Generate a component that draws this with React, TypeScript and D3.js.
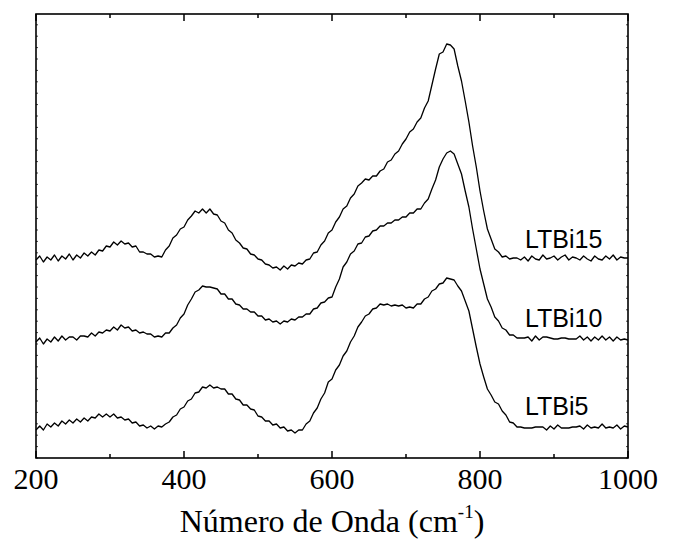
import React, { useEffect, useRef } from "react";
import * as d3 from "d3";

// wavenumber grid, cm-1 (every 5 from 200 to 1000)
const waveStart = 200;
const waveEnd = 1000;
const waveStep = 5;

const seriesNames = ["LTBi15", "LTBi10", "LTBi5"];

// intensities (a.u., offset stacked)
const ltbi15 = [
  198, 202, 196, 201, 198, 203, 197, 202, 199, 204, 198, 203, 200, 205, 202, 206, 203, 208, 207, 212,
  211, 216, 213, 217, 214, 215, 211, 212, 206, 206, 204, 204, 201, 202, 201, 208, 212, 220, 223, 229,
  231, 238, 242, 247, 245, 249, 245, 249, 244, 243, 237, 235, 228, 225, 218, 215, 210, 209, 204, 203,
  199, 198, 194, 193, 190, 191, 188, 192, 189, 193, 192, 195, 194, 198, 199, 205, 206, 213, 217, 225,
  228, 236, 241, 249, 252, 260, 264, 272, 275, 279, 278, 282, 282, 287, 289, 296, 298, 304, 307, 314,
  319, 326, 329, 336, 340, 350, 357, 373, 389, 404, 406, 414, 413, 409, 392, 377, 357, 336, 312, 291,
  267, 247, 229, 219, 209, 206, 201, 202, 199, 200, 200, 198, 201, 197, 202, 199, 198, 203, 199, 200,
  202, 198, 201, 203, 198, 201, 200, 198, 202, 199, 197, 202, 199, 198, 202, 199, 203, 198, 201, 200,
  200,
];

const ltbi10 = [
  116, 120, 114, 119, 116, 121, 117, 122, 118, 121, 121, 118, 122, 122, 121, 125, 122, 126, 125, 128,
  127, 131, 128, 133, 130, 131, 127, 128, 125, 126, 124, 124, 121, 122, 121, 125, 125, 130, 133, 140,
  144, 153, 159, 166, 168, 172, 171, 171, 170, 169, 164, 164, 159, 159, 154, 153, 149, 149, 146, 146,
  142, 142, 138, 139, 136, 137, 134, 137, 136, 139, 138, 141, 141, 144, 144, 149, 150, 155, 156, 160,
  161, 171, 179, 191, 196, 204, 207, 214, 215, 221, 222, 227, 228, 232, 232, 235, 235, 238, 238, 241,
  241, 245, 245, 249, 249, 255, 259, 269, 278, 291, 299, 305, 307, 304, 294, 284, 267, 251, 229, 209,
  189, 174, 159, 151, 141, 137, 130, 128, 123, 123, 120, 120, 120, 121, 117, 122, 118, 121, 121, 120,
  119, 119, 120, 120, 119, 119, 119, 122, 118, 121, 117, 121, 118, 122, 118, 121, 117, 121, 118, 119,
  118,
];

const ltbi5 = [
  28, 32, 28, 34, 31, 35, 32, 37, 34, 38, 35, 39, 36, 40, 37, 41, 40, 44, 41, 44,
  41, 44, 40, 41, 38, 39, 35, 36, 32, 33, 30, 32, 29, 32, 31, 34, 36, 41, 43, 49,
  51, 57, 59, 65, 66, 71, 70, 73, 70, 71, 69, 69, 64, 64, 59, 58, 53, 53, 49, 48,
  42, 41, 37, 37, 33, 34, 30, 31, 27, 28, 25, 28, 28, 34, 37, 45, 50, 59, 65, 76,
  79, 88, 93, 102, 107, 116, 122, 131, 136, 142, 144, 149, 150, 154, 153, 154, 152, 153, 152, 153,
  150, 151, 150, 154, 154, 159, 161, 167, 169, 174, 175, 180, 179, 178, 172, 167, 157, 147, 129, 111,
  94, 81, 69, 63, 56, 54, 47, 43, 36, 35, 31, 31, 30, 30, 30, 31, 31, 31, 28, 32,
  29, 33, 30, 30, 30, 31, 31, 32, 29, 33, 30, 31, 30, 34, 30, 31, 30, 33, 29, 32,
  31,
];

const xTickLabels = [200, 400, 600, 800, 1000];
const xMinorTicks = [300, 500, 700, 900];

export default function App() {
  const ref = useRef<SVGSVGElement>(null);
  const width = 674;
  const height = 541;

  useEffect(() => {
    const svg = d3.select(ref.current);
    svg.selectAll("*").remove();

    const left = 36;
    const right = 628;
    const top = 14;
    const bottom = 458;

    const x = d3.scaleLinear().domain([waveStart, waveEnd]).range([left, right]);
    const y = d3.scaleLinear().domain([0, 444]).range([bottom, top]);

    const waves = d3.range(waveStart, waveEnd + 1, waveStep);
    const allSeries = [ltbi15, ltbi10, ltbi5];

    const line = d3
      .line<number>()
      .x((d, i) => x(waves[i]))
      .y((d) => y(d));

    svg
      .append("g")
      .selectAll("path")
      .data(allSeries)
      .join("path")
      .attr("d", (d) => line(d))
      .attr("fill", "none")
      .attr("stroke", "#000")
      .attr("stroke-width", 1.3)
      .attr("stroke-linejoin", "round");

    // tiny ticks on the left and right axes
    const yTicks = d3.range(0, 444, 11.4);
    const g = svg.append("g").attr("stroke", "#444").attr("stroke-width", 1);
    yTicks.forEach((t) => {
      g.append("line").attr("x1", left).attr("x2", left + 2).attr("y1", y(t)).attr("y2", y(t));
      g.append("line").attr("x1", right).attr("x2", right - 2).attr("y1", y(t)).attr("y2", y(t));
    });

    // x ticks, bottom and top, pointing inward
    const tk = svg.append("g").attr("stroke", "#000").attr("stroke-width", 1.5);
    xTickLabels.forEach((t) => {
      tk.append("line").attr("x1", x(t)).attr("x2", x(t)).attr("y1", bottom).attr("y2", bottom - 7);
      tk.append("line").attr("x1", x(t)).attr("x2", x(t)).attr("y1", top).attr("y2", top + 7);
    });
    xMinorTicks.forEach((t) => {
      tk.append("line").attr("x1", x(t)).attr("x2", x(t)).attr("y1", bottom).attr("y2", bottom - 4);
      tk.append("line").attr("x1", x(t)).attr("x2", x(t)).attr("y1", top).attr("y2", top + 4);
    });

    // frame
    svg
      .append("rect")
      .attr("x", left)
      .attr("y", top)
      .attr("width", right - left)
      .attr("height", bottom - top)
      .attr("fill", "none")
      .attr("stroke", "#000")
      .attr("stroke-width", 1.6);

    svg
      .append("g")
      .selectAll("text")
      .data(xTickLabels)
      .join("text")
      .attr("x", (d) => x(d))
      .attr("y", 489)
      .attr("text-anchor", "middle")
      .style("font", "30px 'Liberation Serif', 'Times New Roman', serif")
      .text((d) => d);

    const title = svg
      .append("text")
      .attr("x", (left + right) / 2)
      .attr("y", 532)
      .attr("text-anchor", "middle")
      .style("font", "32px 'Liberation Serif', 'Times New Roman', serif");
    title.append("tspan").text("Número de Onda (cm");
    title.append("tspan").attr("dy", -14).style("font-size", "19px").text("-1");
    title.append("tspan").attr("dy", 14).text(")");

    // series labels
    const labelY = [248, 327, 415];
    svg
      .append("g")
      .selectAll("text")
      .data(seriesNames)
      .join("text")
      .attr("x", 525)
      .attr("y", (d, i) => labelY[i])
      .style("font", "25px 'Liberation Sans', Arial, sans-serif")
      .text((d) => d);
  }, []);

  return (
    <svg
      ref={ref}
      width={width}
      height={height}
      style={{ position: "absolute", left: 0, top: 0, background: "#fff" }}
    />
  );
}
